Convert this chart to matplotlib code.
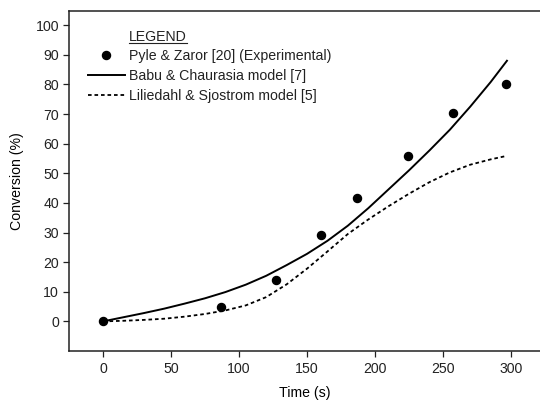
import os

import matplotlib
matplotlib.use("Agg")
import matplotlib.pyplot as plt
from matplotlib import font_manager as fm
from matplotlib.lines import Line2D

# pick the regular (not narrow) Liberation Sans file
reg_path = None
for f in fm.fontManager.ttflist:
    if os.path.basename(f.fname).lower() == "liberationsans-regular.ttf":
        reg_path = f.fname
        break
if reg_path:
    FP = fm.FontProperties(fname=reg_path)
else:
    FP = fm.FontProperties(family="Liberation Sans")
FS = 10.2

# experimental points (Pyle & Zaror)
exp_time = [0, 87, 127, 160, 187, 224, 257, 296]
exp_conv = [0, 5.0, 14.1, 29.1, 41.8, 55.8, 70.2, 80.0]

# model curves
model_time = [0, 15, 30, 45, 60, 75, 90, 105, 120, 135, 150, 165, 180, 195, 210,
              225, 240, 255, 270, 285, 297]
babu_conv = [0, 1.4, 2.8, 4.3, 6.0, 7.8, 9.9, 12.4, 15.4, 19.0, 22.8, 27.2, 32.3,
             38.2, 44.6, 51.0, 57.7, 64.7, 72.5, 80.8, 88.0]
lilie_conv = [0, 0.2, 0.5, 0.9, 1.6, 2.5, 3.7, 5.4, 8.2, 12.5, 17.8, 23.6, 29.5,
              34.4, 38.9, 43.1, 47.0, 50.3, 52.9, 54.7, 55.9]

x_ticks = [0, 50, 100, 150, 200, 250, 300]
y_ticks = [0, 10, 20, 30, 40, 50, 60, 70, 80, 90, 100]

fig = plt.figure(figsize=(5.4, 4.0), dpi=100)
W, H = 540, 400
ax = fig.add_axes([69 / W, (H - 351) / H, (W - 69) / W, (351 - 11) / H])

ax.plot(exp_time, exp_conv, "o", color="black", markersize=5.8, linestyle="none",
        label="Pyle & Zaror [20] (Experimental)", zorder=3)
ax.plot(model_time, babu_conv, "-", color="black", lw=1.4,
        label="Babu & Chaurasia model [7]")
ax.plot(model_time, lilie_conv, color="black", lw=1.3, dashes=(2.0, 1.6),
        label="Liliedahl & Sjostrom model [5]")

ax.set_xlim(-25, 321.3)
ax.set_ylim(-10, 104.8)
ax.set_xticks(x_ticks)
ax.set_yticks(y_ticks)
ax.tick_params(direction="out", length=4.3, width=0.9, color="#222222")
ax.tick_params(axis="x", pad=3.6)
ax.tick_params(axis="y", pad=2.9)
for lbl in ax.get_xticklabels() + ax.get_yticklabels():
    lbl.set_fontproperties(FP)
    lbl.set_fontsize(FS)
    lbl.set_color("#222222")

for side in ["left", "bottom", "top"]:
    ax.spines[side].set_linewidth(1.1)
    ax.spines[side].set_color("#222222")
ax.spines["right"].set_visible(False)

ax.set_xlabel("Time (s)", fontproperties=FP, fontsize=FS, labelpad=7.5)
ax.set_ylabel("Conversion (%)", fontproperties=FP, fontsize=FS, labelpad=8)

leg_fp = FP.copy()
leg_fp.set_size(FS)
leg = ax.legend(loc="upper left", bbox_to_anchor=(88 / W, (H - 49) / H),
                bbox_transform=fig.transFigure, frameon=False, prop=leg_fp,
                handlelength=2.6, handletextpad=0.3, borderpad=0, borderaxespad=0,
                labelspacing=0.43, markerscale=1.0)
for t in leg.get_texts():
    t.set_color("#222222")

title = fig.text(129 / W, (H - 37) / H, "LEGEND", fontproperties=FP, fontsize=FS,
                 ha="left", va="center", color="#222222")

# underline the legend title
fig.canvas.draw()
bb = title.get_window_extent().transformed(fig.transFigure.inverted())
fig.add_artist(Line2D([bb.x0, bb.x1], [bb.y0 + 1.5 / H, bb.y0 + 1.5 / H],
                      transform=fig.transFigure, color="#222222", lw=0.8))

fig.savefig("out.png", dpi=100)
